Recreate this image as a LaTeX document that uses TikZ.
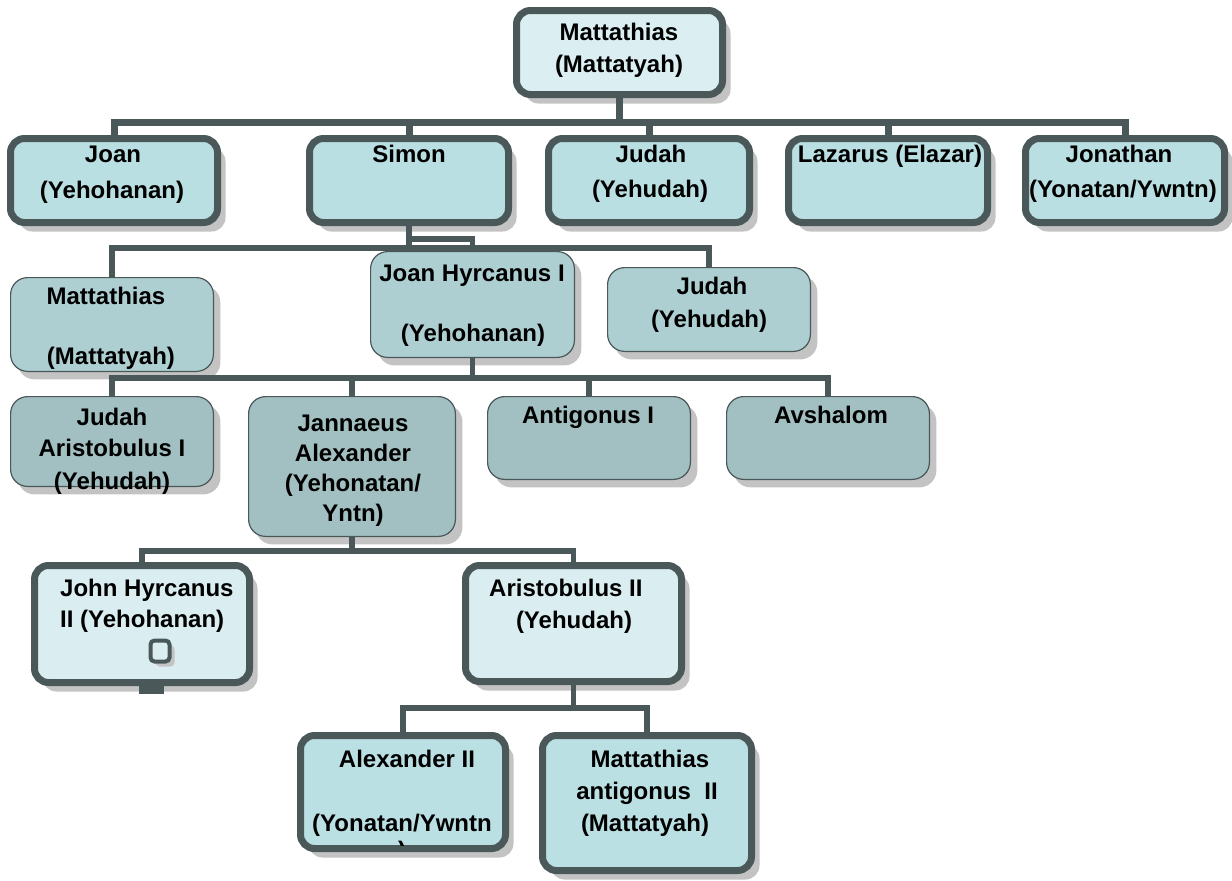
\documentclass[tikz,border=0pt]{standalone}
\usepackage{fontspec}
\setmainfont{Liberation Sans}
\usetikzlibrary{shadows,fit}
\definecolor{dk}{HTML}{4A5859}
\definecolor{topfill}{HTML}{DBEFF2}
\definecolor{rafill}{HTML}{B9DFE3}
\definecolor{rbfill}{HTML}{AECFD2}
\definecolor{rcfill}{HTML}{A2BFC2}
\definecolor{rdfill}{HTML}{DAEEF1}
\definecolor{refill}{HTML}{BBE0E4}
\definecolor{shadowc}{HTML}{C3C3C3}
\tikzset{
  thickbox/.style={draw=dk, line width=7pt, rounded corners=14pt, inner sep=0pt,
    drop shadow={shadow xshift=8pt, shadow yshift=-9pt, fill=shadowc, opacity=1}},
  thinbox/.style={draw=dk, line width=1.2pt, rounded corners=17pt, inner sep=0pt,
    drop shadow={shadow xshift=7pt, shadow yshift=-8pt, fill=shadowc, opacity=1}},
  connA/.style={draw=dk, line width=7pt},
  conn/.style={draw=dk, line width=5.5pt},
  txt/.style={anchor=base, inner sep=0pt, font=\fontsize{24}{32}\selectfont\bfseries},
  txtl/.style={anchor=base west, inner sep=0pt, font=\fontsize{24}{32}\selectfont\bfseries},
}
\begin{document}
\begin{tikzpicture}[x=1pt,y=-1pt]
\useasboundingbox (0,0) rectangle (1232,881);
\coordinate (bar1) at (0,122);
\coordinate (bar2) at (0,248);
\coordinate (bar2a) at (0,239);
\coordinate (bar3) at (0,378);
\coordinate (bar4) at (0,551);
\coordinate (bar5) at (0,708);

% boxes
\node[thickbox, fill=topfill, fit={(516.5,10.5) (722.5,94.5)}] (top) {};
\node[thickbox, fill=rafill, fit={(10.5,138.5) (217.5,222.5)}] (joan1) {};
\node[thickbox, fill=rafill, fit={(309.5,138.5) (508.5,222.5)}] (simon) {};
\node[thickbox, fill=rafill, fit={(548.5,138.5) (749.5,222.5)}] (judah1) {};
\node[thickbox, fill=rafill, fit={(788.5,138.5) (987.5,222.5)}] (lazarus) {};
\node[thickbox, fill=rafill, fit={(1025.5,138.5) (1224.5,222.5)}] (jonathan) {};

\node[thinbox, fill=rbfill, fit={(10.6,277.6) (213.4,371.4)}] (matt2) {};
\node[thinbox, fill=rbfill, fit={(370.6,251.6) (574.4,357.4)}] (hyr1) {};
\node[thinbox, fill=rbfill, fit={(607.6,267.6) (810.4,351.4)}] (judah2) {};

\node[thinbox, fill=rcfill, fit={(10.6,396.6) (213.4,486.4)}] (jarist) {};
\node[thinbox, fill=rcfill, fit={(248.6,396.6) (455.4,536.4)}] (jann) {};
\node[thinbox, fill=rcfill, fit={(487.6,396.6) (690.4,479.4)}] (antig) {};
\node[thinbox, fill=rcfill, fit={(726.6,396.6) (929.4,479.4)}] (avsh) {};

\node[thickbox, fill=rdfill, fit={(34.5,565.5) (249.5,682.5)}] (john2) {};
\node[thickbox, fill=rdfill, fit={(465.5,565.5) (681.5,681.5)}] (arist2) {};

\node[thickbox, fill=refill, fit={(300.5,735.5) (505.5,848.5)}] (alex2) {};
\node[thickbox, fill=refill, fit={(542.5,735.5) (751.5,870.5)}] (matant) {};

% small icon and stub
\node[draw=dk, line width=4pt, fill=rdfill, rounded corners=4pt, inner sep=0pt,
  minimum width=19pt, minimum height=21pt,
  drop shadow={shadow xshift=5pt, shadow yshift=-5pt, fill=shadowc, opacity=1}] (icon) at (160,651) {};
\fill[dk] ([xshift=-3pt]john2.south) rectangle ++(25,8);

% connectors
\draw[connA] (top.south) -- (top.south |- bar1);
\draw[connA] (joan1.north) -- (joan1.north |- bar1) -- (jonathan.north |- bar1) -- (jonathan.north);
\foreach \n in {simon,judah1,lazarus} \draw[connA] (\n.north) -- (\n.north |- bar1);

\draw[conn] (simon.south) -- (simon.south |- bar2);
\draw[conn] (simon.south |- bar2a) -| (hyr1.north);
\draw[conn] (matt2.north) -- (matt2.north |- bar2) -- (judah2.north |- bar2) -- (judah2.north);

\draw[conn] (hyr1.south) -- (hyr1.south |- bar3);
\draw[conn] (jarist.north) -- (jarist.north |- bar3) -- (avsh.north |- bar3) -- (avsh.north);
\foreach \n in {jann,antig} \draw[conn] (\n.north) -- (\n.north |- bar3);

\draw[conn] (jann.south) -- (jann.south |- bar4);
\draw[conn] (john2.north) -- (john2.north |- bar4) -- (arist2.north |- bar4) -- (arist2.north);

\draw[conn] (arist2.south) -- (arist2.south |- bar5);
\draw[conn] (alex2.north) -- (alex2.north |- bar5) -- (matant.north |- bar5) -- (matant.north);

% texts
\node[txt] (t1a) at (619,40) {Mattathias};
\node[txt] (t1b) at (619,72) {(Mattatyah)};
\node[txt] (t2a) at (113,162) {Joan};
\node[txt] (t2b) at (112,198) {(Yehohanan)};
\node[txt] (t3a) at (409,162) {Simon};
\node[txt] (t4a) at (651,162) {Judah};
\node[txt] (t4b) at (650,197) {(Yehudah)};
\node[txt] (t5a) at (890,162) {Lazarus (Elazar)};
\node[txt] (t6a) at (1119,162) {Jonathan};
\node[txt] (t6b) at (1123,197) {(Yonatan/Ywntn)};

\node[txt] (t7a) at (106,304) {Mattathias};
\node[txt] (t7b) at (111,364) {(Mattatyah)};
\node[txt] (t8a) at (472,281) {Joan Hyrcanus I};
\node[txt] (t8b) at (473,341) {(Yehohanan)};
\node[txt] (t9a) at (712,294) {Judah};
\node[txt] (t9b) at (709,327) {(Yehudah)};

\node[txt] (t10a) at (112,425) {Judah};
\node[txt] (t10b) at (112,456) {Aristobulus I};
\node[txt] (t10c) at (112,489) {(Yehudah)};
\node[txt] (t11a) at (353,431) {Jannaeus};
\node[txt] (t11b) at (353,461) {Alexander};
\node[txt] (t11c) at (353,491) {(Yehonatan/};
\node[txt] (t11d) at (353,521) {Yntn)};
\node[txt] (t12a) at (588,423) {Antigonus I};
\node[txt] (t13a) at (831,423) {Avshalom};

\node[txtl] (t14a) at (60,596) {John Hyrcanus};
\node[txtl] (t14b) at (60,627) {II (Yehohanan)};
\node[txtl] (t15a) at (489,596) {Aristobulus II};
\node[txt] (t15b) at (574,628) {(Yehudah)};

\node[txt] (t16a) at (407,767) {Alexander II};
\node[txt] (t16b) at (402,831) {(Yonatan/Ywntn};
\begin{scope}
  \clip (300,735) rectangle (506,845);
  \node[txt] (t16c) at (402,858) {)};
\end{scope}
\node[txt] (t17a) at (650,767) {Mattathias};
\node[txt] (t17b) at (647,799) {antigonus\ \ II};
\node[txt] (t17c) at (645,831) {(Mattatyah)};
\end{tikzpicture}
\end{document}
